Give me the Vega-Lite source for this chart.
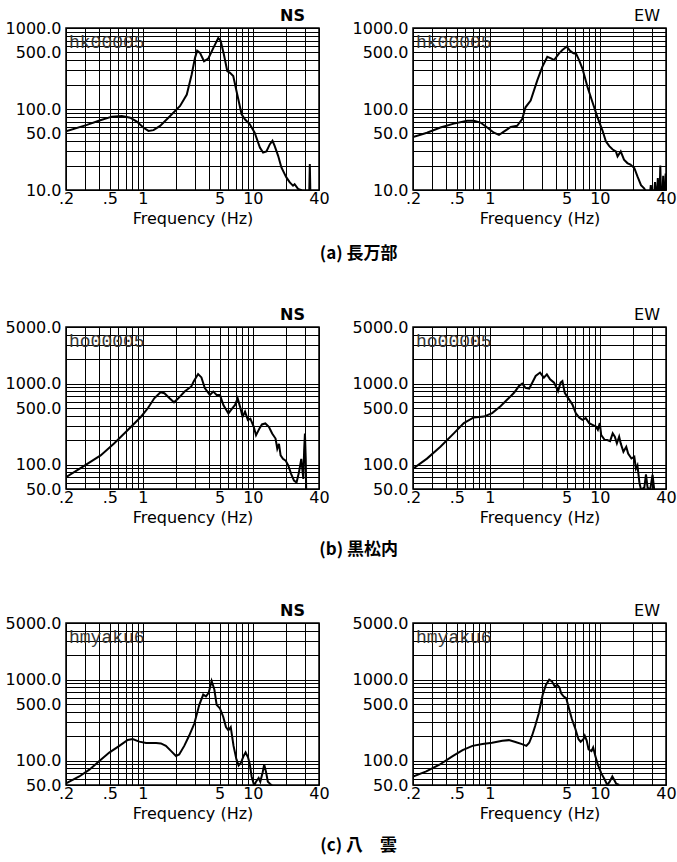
{
"$schema": "https://vega.github.io/schema/vega-lite/v6.json",
"padding": {"left": 4, "top": 7, "right": 6, "bottom": 4},
"background": "white",
"config": {
  "view": {"stroke": "black", "strokeWidth": 1.5},
  "axis": {"labelFont": "DejaVu Sans", "labelFontSize": 16, "labelColor": "black", "titleFont": "DejaVu Sans", "titleFontSize": 16, "titleFontWeight": "normal", "titleColor": "black", "ticks": false, "domain": false, "gridColor": "black", "gridOpacity": 1, "gridWidth": 1, "labelFlush": false, "labelOverlap": false},
  "axisX": {"labelPadding": 0, "titlePadding": 4},
  "axisY": {"labelPadding": 5},
  "title": {"font": "DejaVu Sans", "fontSize": 16, "color": "black", "anchor": "end", "offset": -4, "fontWeight": "normal", "frame": "group"}
},
"datasets": {
  "stations": [{"site": "a", "label": "hk00005"}, {"site": "b", "label": "ho00005"}, {"site": "c", "label": "hmyaku6"}],
  "spectra": [
    {"site":"a","comp":"NS","f":0.2,"amp":53},{"site":"a","comp":"NS","f":0.31,"amp":63.6},{"site":"a","comp":"NS","f":0.41,"amp":72.6},{"site":"a","comp":"NS","f":0.523,"amp":80.5},{"site":"a","comp":"NS","f":0.644,"amp":82},{"site":"a","comp":"NS","f":0.767,"amp":78},{"site":"a","comp":"NS","f":0.881,"amp":70},{"site":"a","comp":"NS","f":1.01,"amp":59},{"site":"a","comp":"NS","f":1.125,"amp":53.7},{"site":"a","comp":"NS","f":1.25,"amp":54.8},{"site":"a","comp":"NS","f":1.435,"amp":61.8},{"site":"a","comp":"NS","f":1.77,"amp":82},{"site":"a","comp":"NS","f":2.18,"amp":109},{"site":"a","comp":"NS","f":2.51,"amp":151},{"site":"a","comp":"NS","f":2.78,"amp":267},{"site":"a","comp":"NS","f":2.98,"amp":428},{"site":"a","comp":"NS","f":3.12,"amp":526},{"site":"a","comp":"NS","f":3.31,"amp":493},{"site":"a","comp":"NS","f":3.6,"amp":389},{"site":"a","comp":"NS","f":3.94,"amp":420},{"site":"a","comp":"NS","f":4.38,"amp":568},{"site":"a","comp":"NS","f":4.85,"amp":753},{"site":"a","comp":"NS","f":5.1,"amp":698},{"site":"a","comp":"NS","f":5.46,"amp":470},{"site":"a","comp":"NS","f":5.86,"amp":293},{"site":"a","comp":"NS","f":6.2,"amp":280},{"site":"a","comp":"NS","f":6.64,"amp":255},{"site":"a","comp":"NS","f":7.22,"amp":151},{"site":"a","comp":"NS","f":7.91,"amp":86},{"site":"a","comp":"NS","f":8.47,"amp":74.6},{"site":"a","comp":"NS","f":9.4,"amp":64.8},{"site":"a","comp":"NS","f":10.4,"amp":51},{"site":"a","comp":"NS","f":11.6,"amp":33.5},{"site":"a","comp":"NS","f":12.4,"amp":29},{"site":"a","comp":"NS","f":13.3,"amp":30},{"site":"a","comp":"NS","f":14.3,"amp":36.8},{"site":"a","comp":"NS","f":15.1,"amp":40.5},{"site":"a","comp":"NS","f":15.8,"amp":35},{"site":"a","comp":"NS","f":17,"amp":26.4},{"site":"a","comp":"NS","f":18.2,"amp":19},{"site":"a","comp":"NS","f":19.5,"amp":15.7},{"site":"a","comp":"NS","f":20.2,"amp":14.3},{"site":"a","comp":"NS","f":21.7,"amp":12.4},{"site":"a","comp":"NS","f":23.2,"amp":11.3},{"site":"a","comp":"NS","f":24,"amp":11.8},{"site":"a","comp":"NS","f":25.8,"amp":10.3},{"site":"a","comp":"NS","f":27.5,"amp":10},{"site":"a","comp":"NS","f":28.5,"amp":9},{"site":"a","comp":"NS","f":32.6,"amp":9},{"site":"a","comp":"NS","f":33,"amp":21},{"site":"a","comp":"NS","f":33.4,"amp":9},
    {"site":"a","comp":"EW","f":0.2,"amp":45},{"site":"a","comp":"EW","f":0.268,"amp":51},{"site":"a","comp":"EW","f":0.355,"amp":59},{"site":"a","comp":"EW","f":0.47,"amp":66},{"site":"a","comp":"EW","f":0.621,"amp":71.5},{"site":"a","comp":"EW","f":0.714,"amp":71.5},{"site":"a","comp":"EW","f":0.822,"amp":68},{"site":"a","comp":"EW","f":0.946,"amp":59},{"site":"a","comp":"EW","f":1.09,"amp":51},{"site":"a","comp":"EW","f":1.21,"amp":47.8},{"site":"a","comp":"EW","f":1.34,"amp":52.6},{"site":"a","comp":"EW","f":1.55,"amp":60},{"site":"a","comp":"EW","f":1.77,"amp":62},{"site":"a","comp":"EW","f":1.97,"amp":75},{"site":"a","comp":"EW","f":2.11,"amp":105},{"site":"a","comp":"EW","f":2.35,"amp":127},{"site":"a","comp":"EW","f":2.7,"amp":226},{"site":"a","comp":"EW","f":3.0,"amp":332},{"site":"a","comp":"EW","f":3.33,"amp":442},{"site":"a","comp":"EW","f":3.6,"amp":422},{"site":"a","comp":"EW","f":3.84,"amp":402},{"site":"a","comp":"EW","f":4.26,"amp":487},{"site":"a","comp":"EW","f":4.57,"amp":536},{"site":"a","comp":"EW","f":5.0,"amp":590},{"site":"a","comp":"EW","f":5.37,"amp":521},{"site":"a","comp":"EW","f":5.76,"amp":487},{"site":"a","comp":"EW","f":6.1,"amp":480},{"site":"a","comp":"EW","f":6.48,"amp":402},{"site":"a","comp":"EW","f":6.95,"amp":316},{"site":"a","comp":"EW","f":7.73,"amp":187},{"site":"a","comp":"EW","f":8.58,"amp":121},{"site":"a","comp":"EW","f":9.53,"amp":78.7},{"site":"a","comp":"EW","f":10.6,"amp":53.8},{"site":"a","comp":"EW","f":11.35,"amp":40},{"site":"a","comp":"EW","f":12.2,"amp":34.8},{"site":"a","comp":"EW","f":13.1,"amp":31.6},{"site":"a","comp":"EW","f":14.0,"amp":30},{"site":"a","comp":"EW","f":14.5,"amp":26},{"site":"a","comp":"EW","f":15.5,"amp":30},{"site":"a","comp":"EW","f":16.6,"amp":23.7},{"site":"a","comp":"EW","f":17.8,"amp":21.5},{"site":"a","comp":"EW","f":19.0,"amp":20.6},{"site":"a","comp":"EW","f":20.6,"amp":18.7},{"site":"a","comp":"EW","f":22,"amp":14.7},{"site":"a","comp":"EW","f":23.7,"amp":11.5},{"site":"a","comp":"EW","f":25.3,"amp":10.5},{"site":"a","comp":"EW","f":27,"amp":9},{"site":"a","comp":"EW","f":28.6,"amp":9},{"site":"a","comp":"EW","f":29.1,"amp":11.5},{"site":"a","comp":"EW","f":29.6,"amp":9},{"site":"a","comp":"EW","f":31.2,"amp":9},{"site":"a","comp":"EW","f":31.8,"amp":12.5},{"site":"a","comp":"EW","f":32.4,"amp":9},{"site":"a","comp":"EW","f":33.2,"amp":9},{"site":"a","comp":"EW","f":33.7,"amp":14},{"site":"a","comp":"EW","f":34.2,"amp":9},{"site":"a","comp":"EW","f":35,"amp":9},{"site":"a","comp":"EW","f":35.5,"amp":20},{"site":"a","comp":"EW","f":36,"amp":9},{"site":"a","comp":"EW","f":37.2,"amp":9},{"site":"a","comp":"EW","f":37.7,"amp":15},{"site":"a","comp":"EW","f":38.2,"amp":9},{"site":"a","comp":"EW","f":39.2,"amp":9},{"site":"a","comp":"EW","f":39.7,"amp":16},{"site":"a","comp":"EW","f":40,"amp":12},
    {"site":"b","comp":"NS","f":0.2,"amp":70},{"site":"b","comp":"NS","f":0.29,"amp":95.7},{"site":"b","comp":"NS","f":0.413,"amp":130},{"site":"b","comp":"NS","f":0.547,"amp":182},{"site":"b","comp":"NS","f":0.726,"amp":266},{"site":"b","comp":"NS","f":0.962,"amp":390},{"site":"b","comp":"NS","f":1.11,"amp":496},{"site":"b","comp":"NS","f":1.27,"amp":659},{"site":"b","comp":"NS","f":1.45,"amp":784},{"site":"b","comp":"NS","f":1.57,"amp":762},{"site":"b","comp":"NS","f":1.75,"amp":659},{"site":"b","comp":"NS","f":1.92,"amp":588},{"site":"b","comp":"NS","f":2.08,"amp":649},{"site":"b","comp":"NS","f":2.4,"amp":798},{"site":"b","comp":"NS","f":2.76,"amp":922},{"site":"b","comp":"NS","f":2.9,"amp":1064},{"site":"b","comp":"NS","f":3.18,"amp":1312},{"site":"b","comp":"NS","f":3.41,"amp":1193},{"site":"b","comp":"NS","f":3.66,"amp":879},{"site":"b","comp":"NS","f":4.07,"amp":726},{"site":"b","comp":"NS","f":4.37,"amp":798},{"site":"b","comp":"NS","f":4.69,"amp":726},{"site":"b","comp":"NS","f":5.03,"amp":726},{"site":"b","comp":"NS","f":5.4,"amp":545},{"site":"b","comp":"NS","f":6.0,"amp":429},{"site":"b","comp":"NS","f":6.5,"amp":496},{"site":"b","comp":"NS","f":6.9,"amp":545},{"site":"b","comp":"NS","f":7.28,"amp":659},{"site":"b","comp":"NS","f":7.65,"amp":520},{"site":"b","comp":"NS","f":8.07,"amp":390},{"site":"b","comp":"NS","f":8.5,"amp":450},{"site":"b","comp":"NS","f":9.02,"amp":355},{"site":"b","comp":"NS","f":9.5,"amp":370},{"site":"b","comp":"NS","f":10.2,"amp":293},{"site":"b","comp":"NS","f":10.7,"amp":231},{"site":"b","comp":"NS","f":11.5,"amp":280},{"site":"b","comp":"NS","f":12.1,"amp":313},{"site":"b","comp":"NS","f":13.0,"amp":322},{"site":"b","comp":"NS","f":14.0,"amp":293},{"site":"b","comp":"NS","f":15,"amp":242},{"site":"b","comp":"NS","f":16.1,"amp":210},{"site":"b","comp":"NS","f":16.7,"amp":157},{"site":"b","comp":"NS","f":17.3,"amp":180},{"site":"b","comp":"NS","f":17.9,"amp":130},{"site":"b","comp":"NS","f":18.8,"amp":118},{"site":"b","comp":"NS","f":19.9,"amp":112},{"site":"b","comp":"NS","f":21.0,"amp":97.5},{"site":"b","comp":"NS","f":22.3,"amp":77},{"site":"b","comp":"NS","f":23.7,"amp":63.5},{"site":"b","comp":"NS","f":25,"amp":60},{"site":"b","comp":"NS","f":26.3,"amp":80.5},{"site":"b","comp":"NS","f":27.6,"amp":118},{"site":"b","comp":"NS","f":28.8,"amp":66.5},{"site":"b","comp":"NS","f":29.3,"amp":150},{"site":"b","comp":"NS","f":29.8,"amp":242},{"site":"b","comp":"NS","f":30.3,"amp":120},{"site":"b","comp":"NS","f":30.6,"amp":48},
    {"site":"b","comp":"EW","f":0.2,"amp":88.9},{"site":"b","comp":"EW","f":0.268,"amp":118.6},{"site":"b","comp":"EW","f":0.355,"amp":166},{"site":"b","comp":"EW","f":0.47,"amp":243},{"site":"b","comp":"EW","f":0.58,"amp":325},{"site":"b","comp":"EW","f":0.714,"amp":382},{"site":"b","comp":"EW","f":0.881,"amp":392},{"site":"b","comp":"EW","f":1.05,"amp":433},{"site":"b","comp":"EW","f":1.25,"amp":525},{"site":"b","comp":"EW","f":1.44,"amp":636},{"site":"b","comp":"EW","f":1.66,"amp":770},{"site":"b","comp":"EW","f":1.84,"amp":933},{"site":"b","comp":"EW","f":1.97,"amp":998},{"site":"b","comp":"EW","f":2.11,"amp":889},{"site":"b","comp":"EW","f":2.28,"amp":870},{"site":"b","comp":"EW","f":2.43,"amp":1027},{"site":"b","comp":"EW","f":2.61,"amp":1244},{"site":"b","comp":"EW","f":2.86,"amp":1369},{"site":"b","comp":"EW","f":3.1,"amp":1184},{"site":"b","comp":"EW","f":3.3,"amp":1300},{"site":"b","comp":"EW","f":3.53,"amp":1130},{"site":"b","comp":"EW","f":3.84,"amp":1027},{"site":"b","comp":"EW","f":4.17,"amp":807},{"site":"b","comp":"EW","f":4.4,"amp":1027},{"site":"b","comp":"EW","f":4.57,"amp":1075},{"site":"b","comp":"EW","f":4.8,"amp":770},{"site":"b","comp":"EW","f":5.14,"amp":667},{"site":"b","comp":"EW","f":5.64,"amp":551},{"site":"b","comp":"EW","f":6.04,"amp":433},{"site":"b","comp":"EW","f":6.48,"amp":382},{"site":"b","comp":"EW","f":6.95,"amp":357},{"site":"b","comp":"EW","f":7.45,"amp":375},{"site":"b","comp":"EW","f":8.0,"amp":325},{"site":"b","comp":"EW","f":8.58,"amp":310},{"site":"b","comp":"EW","f":9.2,"amp":296},{"site":"b","comp":"EW","f":9.6,"amp":269},{"site":"b","comp":"EW","f":10,"amp":325},{"site":"b","comp":"EW","f":10.3,"amp":232},{"site":"b","comp":"EW","f":11.1,"amp":201},{"site":"b","comp":"EW","f":11.7,"amp":201},{"site":"b","comp":"EW","f":12.4,"amp":195},{"site":"b","comp":"EW","f":13.1,"amp":243},{"site":"b","comp":"EW","f":13.7,"amp":221},{"site":"b","comp":"EW","f":14.3,"amp":183},{"site":"b","comp":"EW","f":15.0,"amp":221},{"site":"b","comp":"EW","f":15.5,"amp":183},{"site":"b","comp":"EW","f":16.4,"amp":144},{"site":"b","comp":"EW","f":17.4,"amp":166},{"site":"b","comp":"EW","f":18.1,"amp":137},{"site":"b","comp":"EW","f":19.4,"amp":119},{"site":"b","comp":"EW","f":20.6,"amp":125},{"site":"b","comp":"EW","f":21.3,"amp":89},{"site":"b","comp":"EW","f":22,"amp":98},{"site":"b","comp":"EW","f":22.9,"amp":60.6},{"site":"b","comp":"EW","f":23.7,"amp":49},{"site":"b","comp":"EW","f":25.4,"amp":52},{"site":"b","comp":"EW","f":26.3,"amp":75.7},{"site":"b","comp":"EW","f":27.2,"amp":52},{"site":"b","comp":"EW","f":28.7,"amp":49},{"site":"b","comp":"EW","f":30.2,"amp":75},{"site":"b","comp":"EW","f":31.3,"amp":48},
    {"site":"c","comp":"NS","f":0.2,"amp":52.5},{"site":"c","comp":"NS","f":0.264,"amp":63.7},{"site":"c","comp":"NS","f":0.326,"amp":77.3},{"site":"c","comp":"NS","f":0.402,"amp":98.6},{"site":"c","comp":"NS","f":0.495,"amp":125.6},{"site":"c","comp":"NS","f":0.611,"amp":152},{"site":"c","comp":"NS","f":0.728,"amp":180},{"site":"c","comp":"NS","f":0.807,"amp":185},{"site":"c","comp":"NS","f":0.928,"amp":171.5},{"site":"c","comp":"NS","f":1.07,"amp":165},{"site":"c","comp":"NS","f":1.32,"amp":165},{"site":"c","comp":"NS","f":1.46,"amp":163},{"site":"c","comp":"NS","f":1.62,"amp":152},{"site":"c","comp":"NS","f":1.8,"amp":132},{"site":"c","comp":"NS","f":2.0,"amp":114},{"site":"c","comp":"NS","f":2.14,"amp":119},{"site":"c","comp":"NS","f":2.38,"amp":152},{"site":"c","comp":"NS","f":2.64,"amp":204},{"site":"c","comp":"NS","f":2.94,"amp":287},{"site":"c","comp":"NS","f":3.26,"amp":488},{"site":"c","comp":"NS","f":3.54,"amp":653},{"site":"c","comp":"NS","f":3.75,"amp":620},{"site":"c","comp":"NS","f":3.97,"amp":685},{"site":"c","comp":"NS","f":4.22,"amp":961},{"site":"c","comp":"NS","f":4.47,"amp":755},{"site":"c","comp":"NS","f":4.69,"amp":488},{"site":"c","comp":"NS","f":5.02,"amp":444},{"site":"c","comp":"NS","f":5.38,"amp":348},{"site":"c","comp":"NS","f":5.7,"amp":260},{"site":"c","comp":"NS","f":6.0,"amp":237},{"site":"c","comp":"NS","f":6.3,"amp":260},{"site":"c","comp":"NS","f":6.68,"amp":152},{"site":"c","comp":"NS","f":7.1,"amp":103.6},{"site":"c","comp":"NS","f":7.43,"amp":87},{"site":"c","comp":"NS","f":7.8,"amp":94},{"site":"c","comp":"NS","f":8.25,"amp":114},{"site":"c","comp":"NS","f":8.6,"amp":126},{"site":"c","comp":"NS","f":9.05,"amp":110},{"site":"c","comp":"NS","f":9.4,"amp":89.6},{"site":"c","comp":"NS","f":9.75,"amp":63.7},{"site":"c","comp":"NS","f":10.3,"amp":49},{"site":"c","comp":"NS","f":10.7,"amp":55},{"site":"c","comp":"NS","f":11.3,"amp":61},{"site":"c","comp":"NS","f":11.7,"amp":55},{"site":"c","comp":"NS","f":12.3,"amp":72},{"site":"c","comp":"NS","f":12.7,"amp":89.5},{"site":"c","comp":"NS","f":13.2,"amp":72},{"site":"c","comp":"NS","f":13.7,"amp":55},{"site":"c","comp":"NS","f":14.3,"amp":52},{"site":"c","comp":"NS","f":15,"amp":49},
    {"site":"c","comp":"EW","f":0.2,"amp":63.7},{"site":"c","comp":"EW","f":0.264,"amp":73.6},{"site":"c","comp":"EW","f":0.348,"amp":89},{"site":"c","comp":"EW","f":0.459,"amp":113.6},{"site":"c","comp":"EW","f":0.565,"amp":135},{"site":"c","comp":"EW","f":0.695,"amp":152},{"site":"c","comp":"EW","f":0.857,"amp":160},{"site":"c","comp":"EW","f":1.05,"amp":166},{"site":"c","comp":"EW","f":1.3,"amp":175.5},{"site":"c","comp":"EW","f":1.49,"amp":179},{"site":"c","comp":"EW","f":1.71,"amp":170},{"site":"c","comp":"EW","f":1.96,"amp":160},{"site":"c","comp":"EW","f":2.15,"amp":152},{"site":"c","comp":"EW","f":2.28,"amp":166},{"site":"c","comp":"EW","f":2.42,"amp":203},{"site":"c","comp":"EW","f":2.59,"amp":271},{"site":"c","comp":"EW","f":2.78,"amp":380},{"site":"c","comp":"EW","f":3.02,"amp":646},{"site":"c","comp":"EW","f":3.24,"amp":863},{"site":"c","comp":"EW","f":3.47,"amp":998},{"site":"c","comp":"EW","f":3.67,"amp":952},{"site":"c","comp":"EW","f":3.9,"amp":822},{"site":"c","comp":"EW","f":4.1,"amp":863},{"site":"c","comp":"EW","f":4.3,"amp":801},{"site":"c","comp":"EW","f":4.45,"amp":678},{"site":"c","comp":"EW","f":4.7,"amp":617},{"site":"c","comp":"EW","f":4.95,"amp":589},{"site":"c","comp":"EW","f":5.2,"amp":460},{"site":"c","comp":"EW","f":5.56,"amp":329},{"site":"c","comp":"EW","f":6.0,"amp":246},{"site":"c","comp":"EW","f":6.4,"amp":184},{"site":"c","comp":"EW","f":6.7,"amp":171},{"site":"c","comp":"EW","f":7.1,"amp":184},{"site":"c","comp":"EW","f":7.3,"amp":203},{"site":"c","comp":"EW","f":7.6,"amp":177},{"site":"c","comp":"EW","f":7.9,"amp":138},{"site":"c","comp":"EW","f":8.4,"amp":131},{"site":"c","comp":"EW","f":8.7,"amp":145},{"site":"c","comp":"EW","f":9.12,"amp":113.6},{"site":"c","comp":"EW","f":9.6,"amp":89},{"site":"c","comp":"EW","f":10.3,"amp":70},{"site":"c","comp":"EW","f":11.1,"amp":58},{"site":"c","comp":"EW","f":11.7,"amp":50},{"site":"c","comp":"EW","f":12.3,"amp":55},{"site":"c","comp":"EW","f":13.0,"amp":63.7},{"site":"c","comp":"EW","f":13.5,"amp":58},{"site":"c","comp":"EW","f":14.1,"amp":52},{"site":"c","comp":"EW","f":15,"amp":50}
  ]
},
"vconcat": [
  {"title": {"text": "(a) 長万部", "orient": "bottom", "anchor": "middle", "frame": "bounds", "font": "Noto Sans CJK JP", "fontSize": 17, "fontWeight": "bold", "offset": 19, "dx": 18},
   "spacing": 21,
   "hconcat": [
    {"width": 253, "height": 162, "title": {"text": "NS", "fontWeight": "bold", "dx": -14},
     "layer": [
      {"data": {"name": "spectra"}, "transform": [{"filter": "datum.site == 'a' && datum.comp == 'NS'"}],
       "mark": {"type": "line", "color": "black", "strokeWidth": 2, "clip": true},
       "encoding": {
        "x": {"field": "f", "type": "quantitative", "scale": {"type": "log", "domain": [0.2, 40], "nice": false}, "axis": {"values": [0.2,0.3,0.4,0.5,0.6,0.7,0.8,0.9,1,2,3,4,5,6,7,8,9,10,20,30,40], "labelExpr": "datum.value == 0.2 ? '.2' : datum.value == 0.5 ? '.5' : (datum.value == 1 || datum.value == 5 || datum.value == 10 || datum.value == 40) ? format(datum.value, 'd') : ''", "title": "Frequency (Hz)"}},
        "y": {"field": "amp", "type": "quantitative", "scale": {"type": "log", "domain": [10, 1000], "nice": false}, "axis": {"values": [10,20,30,40,50,60,70,80,90,100,200,300,400,500,600,700,800,900,1000], "labelExpr": "indexof([10,50,100,500,1000], datum.value) >= 0 ? format(datum.value, '.1f') : ''", "title": null}}
       }},
      {"data": {"name": "stations"}, "transform": [{"filter": "datum.site == 'a'"}],
       "mark": {"type": "text", "align": "left", "baseline": "top", "dx": 3, "dy": 6, "font": "Liberation Mono", "fontSize": 18, "color": "#333"},
       "encoding": {"x": {"datum": 0.2, "type": "quantitative"}, "y": {"datum": 1000, "type": "quantitative"}, "text": {"field": "label"}}}
     ]},
    {"width": 253, "height": 162, "title": {"text": "EW", "dx": -6},
     "layer": [
      {"data": {"name": "spectra"}, "transform": [{"filter": "datum.site == 'a' && datum.comp == 'EW'"}],
       "mark": {"type": "line", "color": "black", "strokeWidth": 2, "clip": true},
       "encoding": {
        "x": {"field": "f", "type": "quantitative", "scale": {"type": "log", "domain": [0.2, 40], "nice": false}, "axis": {"values": [0.2,0.3,0.4,0.5,0.6,0.7,0.8,0.9,1,2,3,4,5,6,7,8,9,10,20,30,40], "labelExpr": "datum.value == 0.2 ? '.2' : datum.value == 0.5 ? '.5' : (datum.value == 1 || datum.value == 5 || datum.value == 10 || datum.value == 40) ? format(datum.value, 'd') : ''", "title": "Frequency (Hz)"}},
        "y": {"field": "amp", "type": "quantitative", "scale": {"type": "log", "domain": [10, 1000], "nice": false}, "axis": {"values": [10,20,30,40,50,60,70,80,90,100,200,300,400,500,600,700,800,900,1000], "labelExpr": "indexof([10,50,100,500,1000], datum.value) >= 0 ? format(datum.value, '.1f') : ''", "title": null}}
       }},
      {"data": {"name": "stations"}, "transform": [{"filter": "datum.site == 'a'"}],
       "mark": {"type": "text", "align": "left", "baseline": "top", "dx": 3, "dy": 6, "font": "Liberation Mono", "fontSize": 18, "color": "#333"},
       "encoding": {"x": {"datum": 0.2, "type": "quantitative"}, "y": {"datum": 1000, "type": "quantitative"}, "text": {"field": "label"}}}
     ]}
   ]},
  {"title": {"text": "(b) 黒松内", "orient": "bottom", "anchor": "middle", "frame": "bounds", "font": "Noto Sans CJK JP", "fontSize": 17, "fontWeight": "bold", "offset": 16, "dx": 18},
   "spacing": 21,
   "hconcat": [
    {"width": 253, "height": 162, "title": {"text": "NS", "fontWeight": "bold", "dx": -14},
     "layer": [
      {"data": {"name": "spectra"}, "transform": [{"filter": "datum.site == 'b' && datum.comp == 'NS'"}],
       "mark": {"type": "line", "color": "black", "strokeWidth": 2, "clip": true},
       "encoding": {
        "x": {"field": "f", "type": "quantitative", "scale": {"type": "log", "domain": [0.2, 40], "nice": false}, "axis": {"values": [0.2,0.3,0.4,0.5,0.6,0.7,0.8,0.9,1,2,3,4,5,6,7,8,9,10,20,30,40], "labelExpr": "datum.value == 0.2 ? '.2' : datum.value == 0.5 ? '.5' : (datum.value == 1 || datum.value == 5 || datum.value == 10 || datum.value == 40) ? format(datum.value, 'd') : ''", "title": "Frequency (Hz)"}},
        "y": {"field": "amp", "type": "quantitative", "scale": {"type": "log", "domain": [50, 5000], "nice": false}, "axis": {"values": [50,60,70,80,90,100,200,300,400,500,600,700,800,900,1000,2000,3000,4000,5000], "labelExpr": "indexof([50,100,500,1000,5000], datum.value) >= 0 ? format(datum.value, '.1f') : ''", "title": null}}
       }},
      {"data": {"name": "stations"}, "transform": [{"filter": "datum.site == 'b'"}],
       "mark": {"type": "text", "align": "left", "baseline": "top", "dx": 3, "dy": 6, "font": "Liberation Mono", "fontSize": 18, "color": "#333"},
       "encoding": {"x": {"datum": 0.2, "type": "quantitative"}, "y": {"datum": 5000, "type": "quantitative"}, "text": {"field": "label"}}}
     ]},
    {"width": 253, "height": 162, "title": {"text": "EW", "dx": -6},
     "layer": [
      {"data": {"name": "spectra"}, "transform": [{"filter": "datum.site == 'b' && datum.comp == 'EW'"}],
       "mark": {"type": "line", "color": "black", "strokeWidth": 2, "clip": true},
       "encoding": {
        "x": {"field": "f", "type": "quantitative", "scale": {"type": "log", "domain": [0.2, 40], "nice": false}, "axis": {"values": [0.2,0.3,0.4,0.5,0.6,0.7,0.8,0.9,1,2,3,4,5,6,7,8,9,10,20,30,40], "labelExpr": "datum.value == 0.2 ? '.2' : datum.value == 0.5 ? '.5' : (datum.value == 1 || datum.value == 5 || datum.value == 10 || datum.value == 40) ? format(datum.value, 'd') : ''", "title": "Frequency (Hz)"}},
        "y": {"field": "amp", "type": "quantitative", "scale": {"type": "log", "domain": [50, 5000], "nice": false}, "axis": {"values": [50,60,70,80,90,100,200,300,400,500,600,700,800,900,1000,2000,3000,4000,5000], "labelExpr": "indexof([50,100,500,1000,5000], datum.value) >= 0 ? format(datum.value, '.1f') : ''", "title": null}}
       }},
      {"data": {"name": "stations"}, "transform": [{"filter": "datum.site == 'b'"}],
       "mark": {"type": "text", "align": "left", "baseline": "top", "dx": 3, "dy": 6, "font": "Liberation Mono", "fontSize": 18, "color": "#333"},
       "encoding": {"x": {"datum": 0.2, "type": "quantitative"}, "y": {"datum": 5000, "type": "quantitative"}, "text": {"field": "label"}}}
     ]}
   ]},
  {"title": {"text": "(c) 八　雲", "orient": "bottom", "anchor": "middle", "frame": "bounds", "font": "Noto Sans CJK JP", "fontSize": 17, "fontWeight": "bold", "offset": 16, "dx": 18},
   "spacing": 21,
   "hconcat": [
    {"width": 253, "height": 162, "title": {"text": "NS", "fontWeight": "bold", "dx": -14},
     "layer": [
      {"data": {"name": "spectra"}, "transform": [{"filter": "datum.site == 'c' && datum.comp == 'NS'"}],
       "mark": {"type": "line", "color": "black", "strokeWidth": 2, "clip": true},
       "encoding": {
        "x": {"field": "f", "type": "quantitative", "scale": {"type": "log", "domain": [0.2, 40], "nice": false}, "axis": {"values": [0.2,0.3,0.4,0.5,0.6,0.7,0.8,0.9,1,2,3,4,5,6,7,8,9,10,20,30,40], "labelExpr": "datum.value == 0.2 ? '.2' : datum.value == 0.5 ? '.5' : (datum.value == 1 || datum.value == 5 || datum.value == 10 || datum.value == 40) ? format(datum.value, 'd') : ''", "title": "Frequency (Hz)"}},
        "y": {"field": "amp", "type": "quantitative", "scale": {"type": "log", "domain": [50, 5000], "nice": false}, "axis": {"values": [50,60,70,80,90,100,200,300,400,500,600,700,800,900,1000,2000,3000,4000,5000], "labelExpr": "indexof([50,100,500,1000,5000], datum.value) >= 0 ? format(datum.value, '.1f') : ''", "title": null}}
       }},
      {"data": {"name": "stations"}, "transform": [{"filter": "datum.site == 'c'"}],
       "mark": {"type": "text", "align": "left", "baseline": "top", "dx": 3, "dy": 6, "font": "Liberation Mono", "fontSize": 18, "color": "#333"},
       "encoding": {"x": {"datum": 0.2, "type": "quantitative"}, "y": {"datum": 5000, "type": "quantitative"}, "text": {"field": "label"}}}
     ]},
    {"width": 253, "height": 162, "title": {"text": "EW", "dx": -6},
     "layer": [
      {"data": {"name": "spectra"}, "transform": [{"filter": "datum.site == 'c' && datum.comp == 'EW'"}],
       "mark": {"type": "line", "color": "black", "strokeWidth": 2, "clip": true},
       "encoding": {
        "x": {"field": "f", "type": "quantitative", "scale": {"type": "log", "domain": [0.2, 40], "nice": false}, "axis": {"values": [0.2,0.3,0.4,0.5,0.6,0.7,0.8,0.9,1,2,3,4,5,6,7,8,9,10,20,30,40], "labelExpr": "datum.value == 0.2 ? '.2' : datum.value == 0.5 ? '.5' : (datum.value == 1 || datum.value == 5 || datum.value == 10 || datum.value == 40) ? format(datum.value, 'd') : ''", "title": "Frequency (Hz)"}},
        "y": {"field": "amp", "type": "quantitative", "scale": {"type": "log", "domain": [50, 5000], "nice": false}, "axis": {"values": [50,60,70,80,90,100,200,300,400,500,600,700,800,900,1000,2000,3000,4000,5000], "labelExpr": "indexof([50,100,500,1000,5000], datum.value) >= 0 ? format(datum.value, '.1f') : ''", "title": null}}
       }},
      {"data": {"name": "stations"}, "transform": [{"filter": "datum.site == 'c'"}],
       "mark": {"type": "text", "align": "left", "baseline": "top", "dx": 3, "dy": 6, "font": "Liberation Mono", "fontSize": 18, "color": "#333"},
       "encoding": {"x": {"datum": 0.2, "type": "quantitative"}, "y": {"datum": 5000, "type": "quantitative"}, "text": {"field": "label"}}}
     ]}
   ]}
],
"spacing": 44
}
